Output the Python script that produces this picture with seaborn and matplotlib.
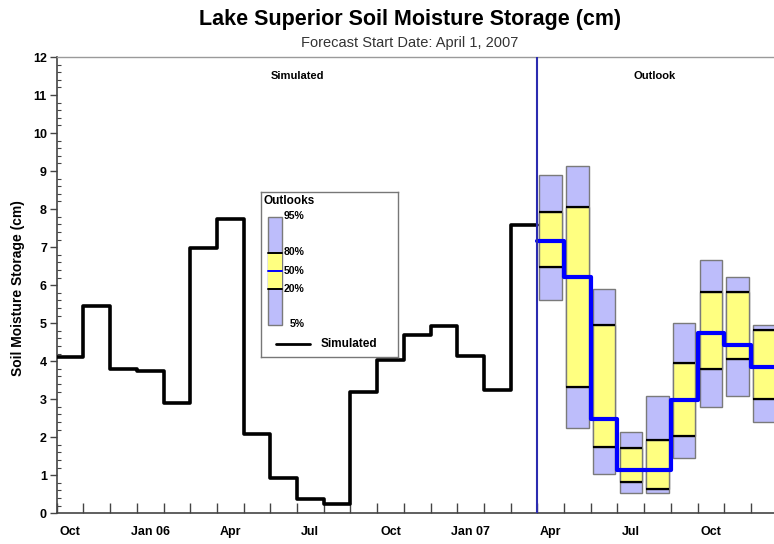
import matplotlib
matplotlib.use("Agg")
import matplotlib.pyplot as plt
from matplotlib.patches import Rectangle
from matplotlib.ticker import MultipleLocator, FixedLocator, NullFormatter, FixedFormatter
import seaborn as sns
import pandas as pd

# Simulated monthly soil moisture, Oct 2005 .. Mar 2007 (cm)
sim_months = ["Oct 05", "Nov 05", "Dec 05", "Jan 06", "Feb 06", "Mar 06", "Apr 06",
              "May 06", "Jun 06", "Jul 06", "Aug 06", "Sep 06", "Oct 06", "Nov 06",
              "Dec 06", "Jan 07", "Feb 07", "Mar 07"]
sim_values = [4.10, 5.44, 3.79, 3.73, 2.91, 6.97, 7.75, 2.08, 0.93, 0.37, 0.24,
              3.20, 4.02, 4.70, 4.92, 4.13, 3.25, 7.57]

# Outlook percentiles, Apr 2007 .. Dec 2007 (cm)
out_months = ["Apr 07", "May 07", "Jun 07", "Jul 07", "Aug 07", "Sep 07",
              "Oct 07", "Nov 07", "Dec 07"]
p95 = [8.90, 9.14, 5.89, 2.15, 3.09, 5.00, 6.65, 6.21, 4.95]
p80 = [7.92, 8.05, 4.96, 1.73, 1.93, 3.95, 5.83, 5.83, 4.82]
p50 = [7.17, 6.21, 2.47, 1.13, 1.13, 2.99, 4.75, 4.43, 3.84]
p20 = [6.48, 3.33, 1.74, 0.82, 0.63, 2.04, 3.79, 4.05, 3.00]
p05 = [5.61, 2.24, 1.03, 0.54, 0.53, 1.46, 2.79, 3.09, 2.41]

month_labels = ["Oct", "Jan 06", "Apr", "Jul", "Oct", "Jan 07", "Apr", "Jul", "Oct"]

sns.set_theme(style="white")
plt.rcParams["font.family"] = ["Liberation Sans", "DejaVu Sans"]
plt.rcParams["text.color"] = "black"
plt.rcParams["xtick.color"] = "black"
plt.rcParams["ytick.color"] = "black"

LAV = "#bdbdfb"
YEL = "#ffff80"
EDGE = "#7a7a7a"
BLUE = "#0000ff"

fig = plt.figure(figsize=(7.74, 5.44), dpi=100)
ax = fig.add_axes([56.7 / 774, 1 - 513.3 / 544, 1 - 56.7 / 774, (513.3 - 57) / 544])

n_sim = len(sim_values)
sim_df = pd.DataFrame({"month": list(range(n_sim + 1)),
                       "value": sim_values + [sim_values[-1]]})
out_df = pd.DataFrame({"month": [n_sim + i for i in range(len(p50) + 1)],
                       "value": p50 + [p50[-1]]})

# outlook boxes
w = 0.84
for i in range(len(out_months)):
    xc = n_sim + i + 0.5
    ax.bar(xc, p95[i] - p05[i], bottom=p05[i], width=w, color=LAV,
           edgecolor=EDGE, linewidth=1.0, zorder=2)
    ax.bar(xc, p80[i] - p20[i], bottom=p20[i], width=w, color=YEL,
           edgecolor=EDGE, linewidth=1.0, zorder=3)
    ax.hlines([p20[i], p80[i]], xc - w / 2, xc + w / 2, color="black",
              linewidth=1.6, zorder=4)

sns.lineplot(data=sim_df, x="month", y="value", drawstyle="steps-post",
             color="black", linewidth=2.6, estimator=None, ax=ax, zorder=5)
sns.lineplot(data=out_df, x="month", y="value", drawstyle="steps-post",
             color=BLUE, linewidth=3.0, estimator=None, ax=ax, zorder=6)
ax.axvline(n_sim, color="#2b2bb0", linewidth=1.5, zorder=7)

ax.set_xlim(0, (774 - 56.7) / 26.7)
ax.set_ylim(0, 12)
ax.set_xlabel("")
ax.set_ylabel("")

# x ticks: month boundaries as ticks, labels at month centres
ax.xaxis.set_major_locator(FixedLocator(list(range(0, 28))))
ax.xaxis.set_major_formatter(NullFormatter())
ax.xaxis.set_minor_locator(FixedLocator([i + 0.5 for i in range(0, 27, 3)]))
ax.xaxis.set_minor_formatter(FixedFormatter(month_labels))
ax.tick_params(axis="x", which="major", direction="in", length=7, width=1.0,
               color="#444444", bottom=True)
ax.tick_params(axis="x", which="minor", length=0, pad=9, labelsize=9,
               bottom=True, labelcolor="black")
for lbl in ax.get_xticklabels(minor=True):
    lbl.set_fontweight("bold")

ax.yaxis.set_major_locator(MultipleLocator(1))
ax.yaxis.set_minor_locator(MultipleLocator(0.2))
ax.tick_params(axis="y", which="major", direction="out", length=5, width=1.0,
               color="#444444", labelsize=9, left=True, pad=2, labelcolor="black")
ax.tick_params(axis="y", which="minor", direction="in", length=3, width=0.8,
               color="#444444", left=True)
for lbl in ax.get_yticklabels():
    lbl.set_fontweight("bold")

for side in ["left", "bottom"]:
    ax.spines[side].set_color("#444444")
    ax.spines[side].set_linewidth(1.2)
ax.spines["top"].set_color("#9a9a9a")
ax.spines["top"].set_linewidth(1.0)
ax.spines["right"].set_visible(False)

ax.text(9, 11.5, "Simulated", ha="center", va="center", fontsize=8,
        fontweight="bold")
ax.text(22.4, 11.5, "Outlook", ha="center", va="center", fontsize=8,
        fontweight="bold")

fig.text(410 / 774, 1 - 19 / 544, "Lake Superior Soil Moisture Storage (cm)",
         ha="center", va="center", fontsize=15.5, fontweight="bold")
fig.text(410 / 774, 1 - 43 / 544, "Forecast Start Date: April 1, 2007",
         ha="center", va="center", fontsize=10.5, color="#333333")
fig.text(18 / 774, 1 - 288 / 544, "Soil Moisture Storage (cm)", rotation=90,
         ha="center", va="center", fontsize=10, fontweight="bold")

# legend panel
bx0, by0, bw, bh = 261, 191.7, 137, 165
lax = fig.add_axes([bx0 / 774, 1 - (by0 + bh) / 544, bw / 774, bh / 544])
lax.set_xlim(0, bw)
lax.set_ylim(bh, 0)
lax.set_xticks([])
lax.set_yticks([])
lax.set_facecolor("white")
for s in lax.spines.values():
    s.set_color("#777777")
    s.set_linewidth(1.0)
lax.text(3, 9, "Outlooks", fontsize=8.5, fontweight="bold", va="center")
lax.add_patch(Rectangle((7.3, 25.6), 14, 107.7, facecolor=LAV, edgecolor=EDGE,
                        linewidth=1.0))
lax.add_patch(Rectangle((7.3, 61), 14, 36.3, facecolor=YEL, edgecolor="none"))
lax.plot([7.3, 21.3], [61, 61], color="black", linewidth=1.4)
lax.plot([7.3, 21.3], [97.3, 97.3], color="black", linewidth=1.4)
lax.plot([7.3, 21.3], [79, 79], color=BLUE, linewidth=1.4)
for lab, yy, xx in [("95%", 24, 22.5), ("80%", 60.5, 22.5), ("50%", 79, 22.5),
                    ("20%", 97, 22.5), ("5%", 132.5, 29)]:
    lax.text(xx, yy, lab, fontsize=7.5, fontweight="bold", va="center")
lax.plot([15, 49], [152, 152], color="black", linewidth=2.0)
lax.text(60, 152, "Simulated", fontsize=8.5, fontweight="bold", va="center")

fig.savefig("out.png", dpi=100)
